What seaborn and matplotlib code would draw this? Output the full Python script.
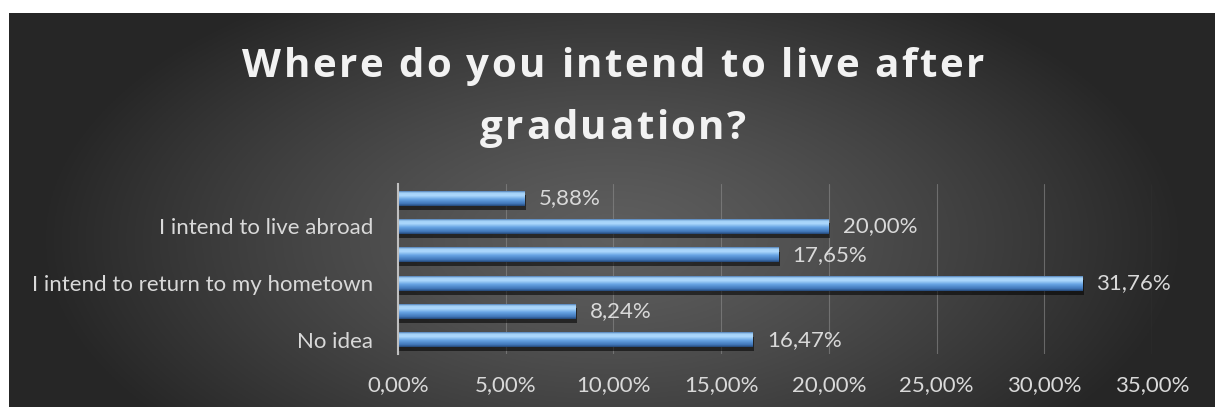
import numpy as np
import pandas as pd
import matplotlib
matplotlib.use("Agg")
import matplotlib.pyplot as plt
import seaborn as sns
from matplotlib import patheffects
from matplotlib.font_manager import FontProperties
from matplotlib.ticker import MultipleLocator, FuncFormatter

# Survey answers, top to bottom (only every other category name is printed)
tick_labels = ["", "I intend to live abroad", "", "I intend to return to my hometown", "", "No idea"]
shares = [5.88, 20.00, 17.65, 31.76, 8.24, 16.47]
title_lines = ["Where do you intend to live after", "graduation?"]

slots = [f"c{i}" for i in range(len(shares))]
df = pd.DataFrame({"slot": slots, "share": shares})

sns.set_theme(style="dark")
plt.rcParams["font.family"] = ["Lato", "DejaVu Sans"]

W, H = 1215, 407
fig = plt.figure(figsize=(W / 100, H / 100), dpi=100)
fig.patch.set_facecolor("white")

# dark radial backdrop, lighter just above the middle
bg = fig.add_axes([9 / W, 0, 1 - 9 / W, 1 - 13 / H], zorder=-10)
gx = np.linspace(-1, 1, 600)
gy = np.linspace(-1, 1, 250)
X, Y = np.meshgrid(gx, gy)
r = np.sqrt((X / 0.95) ** 2 + ((Y - 0.15) / 1.5) ** 2)
r = np.clip(r, 0, 1)
c0, c1 = np.array([0.37, 0.37, 0.37]), np.array([0.15, 0.15, 0.15])
img = c0[None, None, :] * (1 - r[..., None] ** 1.3) + c1[None, None, :] * (r[..., None] ** 1.3)
bg.imshow(img, aspect="auto", extent=[0, 1, 0, 1], origin="upper")
bg.set_axis_off()

ax = fig.add_axes([398 / W, (H - 354) / H, (1152 - 398) / W, (354 - 184) / H])
ax.set_facecolor("none")

sns.barplot(data=df, x="share", y="slot", order=slots, orient="h",
            color="#5b9bd5", width=0.52, ax=ax, saturation=1)

# cylinder-like shading on every bar: (position, rgb) stops from top to bottom
stops = [(0.00, (0.30, 0.48, 0.70)),
         (0.12, (0.64, 0.82, 0.97)),
         (0.30, (0.68, 0.85, 0.99)),
         (0.55, (0.40, 0.64, 0.89)),
         (0.85, (0.25, 0.46, 0.72)),
         (1.00, (0.14, 0.28, 0.46))]
t = np.linspace(0, 1, 96)
pos = [s[0] for s in stops]
grad_img = np.stack([np.interp(t, pos, [s[1][k] for s in stops]) for k in range(3)], axis=-1)[:, None, :]

for p in ax.patches:
    p.set_edgecolor("none")
    p.set_path_effects([patheffects.SimplePatchShadow(offset=(1, -3), shadow_rgbFace="black", alpha=0.55),
                        patheffects.Normal()])
    x0, y0 = p.get_x(), p.get_y()
    w, h = p.get_width(), p.get_height()
    im = ax.imshow(grad_img, aspect="auto", extent=[x0, x0 + w, y0 + h, y0],
                   origin="upper", zorder=p.get_zorder() + 0.1, interpolation="bilinear")
    im.set_clip_path(p)

for p, v in zip(ax.patches, shares):
    ax.text(p.get_x() + p.get_width() + 0.65, p.get_y() + p.get_height() / 2,
            f"{v:.2f}%".replace(".", ","), color="#d9d9d9", fontsize=16,
            va="center", ha="left")

ax.set_xlim(0, 35)
ax.set_ylim(len(shares) - 0.5, -0.5)
ax.xaxis.set_major_locator(MultipleLocator(5))
ax.xaxis.set_major_formatter(FuncFormatter(lambda v, _: f"{v:.2f}%".replace(".", ",")))
ax.set_yticks(range(len(shares)), labels=tick_labels)
ax.set_xlabel("")
ax.set_ylabel("")
ax.tick_params(axis="x", colors="#d9d9d9", labelsize=16, length=0, pad=15)
ax.tick_params(axis="y", colors="#d9d9d9", labelsize=16, length=0, pad=18)
ax.grid(axis="x", color="#8c8c8c", linewidth=0.8, alpha=0.6)
ax.grid(axis="y", visible=False)
for side in ["top", "right", "bottom"]:
    ax.spines[side].set_visible(False)
ax.spines["left"].set_color("#bfbfbf")
ax.spines["left"].set_linewidth(1.5)
ax.set_axisbelow(True)

# title with open letter spacing, drawn glyph by glyph
renderer = fig.canvas.get_renderer()
tprop = FontProperties(family="Open Sans", weight="bold", size=29)
line1_w = 742.0  # width of the first title line in pixels
first_w = renderer.get_text_width_height_descent(title_lines[0], tprop, ismath=False)[0]
tracking = max(0.0, (line1_w - first_w) / (len(title_lines[0]) - 1))
cx = 613
for line, base in zip(title_lines, [77, 139]):
    full_w, _, _ = renderer.get_text_width_height_descent(line, tprop, ismath=False)
    total = full_w + tracking * (len(line) - 1)
    x_start = cx - total / 2
    for i, ch in enumerate(line):
        pre_w = renderer.get_text_width_height_descent(line[:i], tprop, ismath=False)[0] if i else 0
        xp = x_start + pre_w + i * tracking
        fig.text(xp / W, 1 - base / H, ch, fontproperties=tprop, color="#f2f2f2",
                 ha="left", va="baseline")

fig.savefig("out.png", dpi=100)
